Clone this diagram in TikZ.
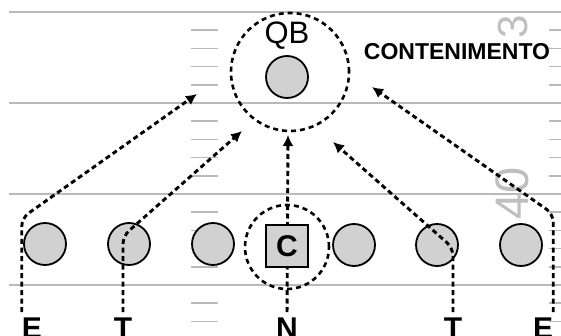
\documentclass[tikz,border=0pt]{standalone}
\usepackage{fontspec}
\setmainfont{Liberation Sans}
\usetikzlibrary{calc}
\usetikzlibrary{arrows.meta}
\usetikzlibrary{positioning}

\begin{document}
\begin{tikzpicture}[x=1pt,y=-1pt,
      yard/.style={draw=black!27, line width=1.8pt},
      hash/.style={draw=black!27, line width=1.6pt},
      yardnum/.style={text=black!25, inner sep=0, rotate=90},
      player/.style={circle, draw, fill=black!18, line width=1.8pt, minimum size=42pt, inner sep=0},
      snapper/.style={draw, fill=black!18, line width=1.8pt, minimum size=42pt, inner sep=0,
        font=\fontsize{30}{30}\selectfont\bfseries},
      zone/.style={circle, draw, line width=2.6pt, dash pattern=on 5pt off 4pt, inner sep=0},
      letter/.style={inner sep=0, anchor=north, font=\fontsize{30}{30}\selectfont\bfseries},
      route/.style={-{Latex[length=11pt,width=11pt]}, line width=2.9pt,
        dash pattern=on 5pt off 3.5pt, rounded corners=8pt, shorten <=6pt}]
    \useasboundingbox (0,0) rectangle (561,336);
    \clip (0,0) rectangle (561,336);

    % field
    \foreach \b in {12,103,194,285} {
      \draw[yard] (9,\b) -- (561,\b);
      \foreach \i in {1,...,4} {
        \draw[hash] (191,\b+18.2*\i) -- (218,\b+18.2*\i);
        \draw[hash] (549,\b+18.2*\i) -- (561,\b+18.2*\i);
      }
    }
    \node[yardnum, font=\fontsize{42}{42}\selectfont] (num3) at (513,27) {3};
    \node[yardnum, font=\fontsize{47}{47}\selectfont] (num40) at (512,193) {40};
    \node[inner sep=0, font=\fontsize{23}{23}\selectfont\bfseries] (cont) at (457,52) {CONTENIMENTO};

    % labels under the line
    \node[letter] (lblel) at (32,318) {E};
    \node[letter] (lbllt) at (123,318) {T};
    \node[letter] (lbln) at (287,318) {N};
    \node[letter] (lblrt) at (453,318) {T};
    \node[letter] (lblre) at (543,318) {E};

    \coordinate (tipel) at (197,94);
    \coordinate (tiplt) at (242,131);
    \coordinate (tipn) at (288,135);
    \coordinate (tiprt) at (333,142);
    \coordinate (tipre) at (372,87);

    \draw[route] (lbln.north) -- (tipn);

    % players
    \node[player] (qb) at (287,77) {};
    \node[inner sep=0, font=\fontsize{31}{31}\selectfont, above=6pt of qb] (qblbl) {QB};
    \node[zone, minimum size=118pt] (qbzone) at (290,72) {};

    \node[player] (endl) at (45,244) {};
    \node[player] (tackl) at (129,244) {};
    \node[player] (guardl) at (213,244) {};
    \node[snapper] (ctr) at (287,246) {C};
    \node[zone, minimum size=84pt] (ctrzone) at (287,247) {};
    \node[player] (guardr) at (354,245) {};
    \node[player] (tackr) at (437,245) {};
    \node[player] (endr) at (521,245) {};

    % rush lanes
    \draw[route] (lblel.north west) -- ++(0,-100) -- (tipel);
    \draw[route] (lbllt.north) -- ++(0,-82) -- (tiplt);
    \draw[route] (lblrt.north) -- ++(0,-70) -- (tiprt);
    \draw[route] (lblre.north east) -- ++(0,-104) -- (tipre);
  \end{tikzpicture}
\end{document}
